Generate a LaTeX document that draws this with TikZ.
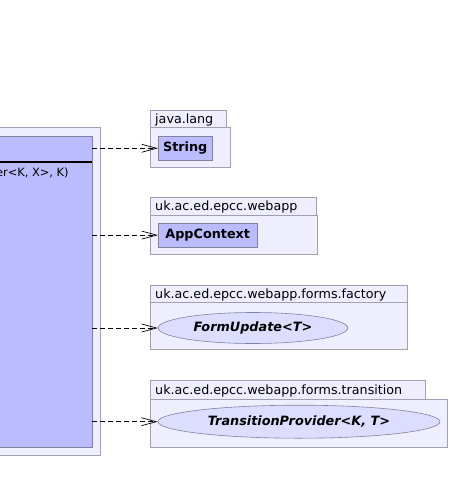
\documentclass[tikz,border=0pt]{standalone}
\usepackage{fontspec}
\setmainfont{DejaVu Sans}
\usetikzlibrary{arrows.meta,shapes.geometric}
\definecolor{pkgfill}{RGB}{238,238,255}
\definecolor{pkgline}{RGB}{160,160,180}
\definecolor{clsfill}{RGB}{187,187,255}
\definecolor{clsline}{RGB}{130,130,160}
\definecolor{ifcfill}{RGB}{221,221,255}
\tikzset{
  pkgbox/.style={draw=pkgline,fill=pkgfill,line width=0.8pt},
  tabtext/.style={font=\fontsize{12.7}{15}\selectfont,anchor=base west,inner sep=0pt},
  clsbox/.style={draw=clsline,fill=clsfill,line width=0.8pt,inner sep=0pt,font=\bfseries\fontsize{12.8}{15}\selectfont},
  ifcbox/.style={ellipse,draw=clsline,fill=ifcfill,line width=0.6pt,inner sep=0pt,font=\bfseries\itshape\fontsize{12.8}{15}\selectfont},
  dep/.style={dashed,dash pattern=on 5pt off 3pt,line width=0.7pt,-{Straight Barb[length=15pt,width=8pt]}}
}
\begin{document}
\begin{tikzpicture}[x=1pt,y=-1pt]
\useasboundingbox (0,0) rectangle (450,493);
\clip (0,0) rectangle (450,493);
% main package and class (cut off at left)
\draw[pkgbox] (-30,127.5) rectangle (100,455.5);
\node[draw=clsline,fill=clsfill,line width=0.8pt,minimum width=122pt,minimum height=311pt,inner sep=0pt,anchor=north east] (main) at (92.3,136) {};
\draw[line width=2pt] (-30,162.3) -- (main.east |- 0,162.3);
\node[anchor=base east,inner sep=0pt,font=\fontsize{11.4}{14}\selectfont] (sig) at (68.8,176.7) {er<K, X>, K)};
% java.lang
\draw[pkgbox] (150,110.5) rectangle (226.7,127.3);
\node[tabtext] (tab1) at (155,123) {java.lang};
\draw[pkgbox] (150,127.3) rectangle (230.7,167.3);
\node[clsbox,minimum width=53.7pt,minimum height=23.7pt,anchor=north west] (string) at (158,136) {String};
% webapp
\draw[pkgbox] (150,197.5) rectangle (316,215.3);
\node[tabtext] (tab2) at (155,210.5) {uk.ac.ed.epcc.webapp};
\draw[pkgbox] (150,215.3) rectangle (317.7,254.3);
\node[clsbox,minimum width=98.7pt,minimum height=24pt,anchor=north west] (appctx) at (158,222.7) {AppContext};
% factory
\draw[pkgbox] (150,285) rectangle (407.5,302.7);
\node[tabtext] (tab3) at (155,298) {uk.ac.ed.epcc.webapp.forms.factory};
\draw[pkgbox] (150,302.7) rectangle (407.5,349.5);
\node[ifcbox,minimum width=189.5pt,minimum height=31pt] (formupd) at (253,328) {FormUpdate<T>};
% transition
\draw[pkgbox] (150,380.7) rectangle (425.7,399);
\node[tabtext] (tab4) at (155,394) {uk.ac.ed.epcc.webapp.forms.transition};
\draw[pkgbox] (150,399) rectangle (447,447.3);
\node[ifcbox,minimum width=282pt,minimum height=33pt] (transprov) at (299,421.7) {TransitionProvider<K, T>};
% dependencies
\draw[dep] (main.east |- string.west) -- (string.west);
\draw[dep] (main.east |- appctx.west) -- (appctx.west);
\draw[dep] (main.east |- formupd.west) -- (formupd.west);
\draw[dep] (main.east |- transprov.west) -- (transprov.west);
\end{tikzpicture}
\end{document}
